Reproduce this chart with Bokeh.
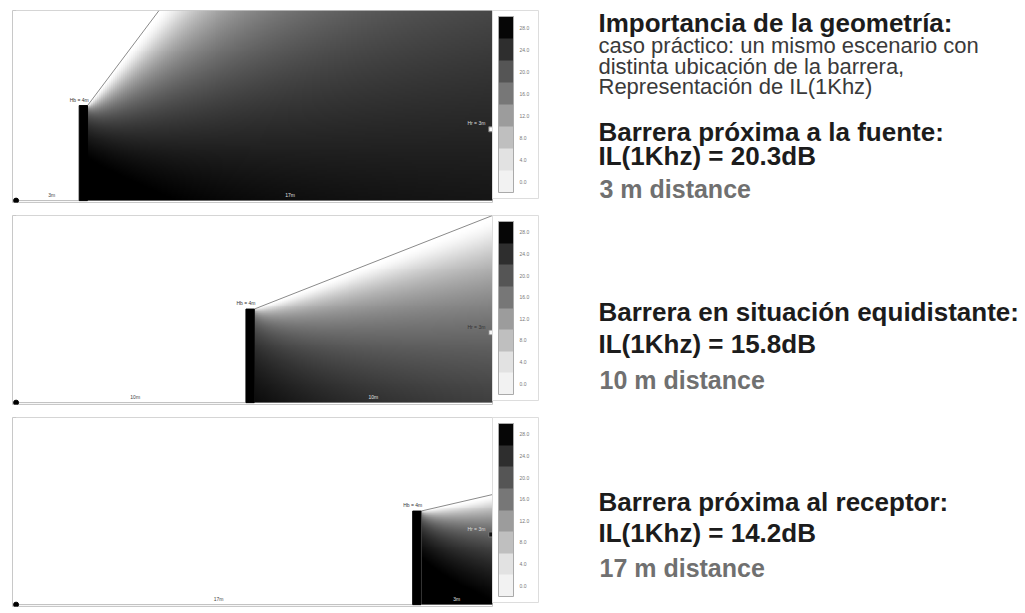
import numpy as np
from bokeh.plotting import figure
from bokeh.models import Range1d, ColorBar, LinearColorMapper, FixedTicker
from bokeh.layouts import row, column
from bokeh.palettes import Greys256
from bokeh.core.properties import value
from bokeh.embed import file_html
from bokeh.resources import INLINE

# ---------------- data ----------------
source_to_receiver = 20.0      # m
domain_height = 8.0            # m
barrier_positions = [3.0, 10.0, 17.0]   # m from the source
barrier_height = 4.0           # m
barrier_thickness = 0.35       # m
receiver_height = 3.0          # m
frequency_hz = 1000.0
sound_speed = 343.0

scenario_titles = ["Barrera próxima a la fuente:",
                   "Barrera en situación equidistante:",
                   "Barrera próxima al receptor:"]
il_results = [20.3, 15.8, 14.2]   # dB
distance_labels = ["3 m distance", "10 m distance", "17 m distance"]

colorbar_labels = ["0.0", "4.0", "8.0", "12.0", "16.0", "20.0", "24.0", "28.0"]
colorbar_greys = ["#f2f2f2", "#e2e2e2", "#bfbfbf", "#9c9c9c",
                  "#777777", "#555555", "#2e2e2e", "#060606"]

header_title = "Importancia de la geometría:"
header_lines = ["caso práctico: un mismo escenario con",
                "distinta ubicación de la barrera,",
                "Representación de IL(1Khz)"]

# ---------------- styles ----------------
FONT = value("Liberation Sans")
receiver_marker_colors = ["#f5f5f5", "#f5f5f5", "#111111"]
receiver_label_colors = ["#dddddd", "#333333", "#dddddd"]
field_high = [26.5, 28.5, 24.5]
frame_tops = [10, 7, 7]
frame_heights = [192, 189, 189]
frame_bottoms = [6, 6, 4]


def il_field(xb, hb, nx=240, ny=96):
    lam = sound_speed / frequency_hz
    xs = (np.arange(nx) + 0.5) * source_to_receiver / nx
    ys = (np.arange(ny) + 0.5) * domain_height / ny
    X, Y = np.meshgrid(xs, ys)
    delta = np.hypot(xb, hb) + np.hypot(X - xb, Y - hb) - np.hypot(X, Y)
    il = 10 * np.log10(3 + 40 * np.clip(delta, 0, None) / lam)
    shadow = (X >= xb) & (Y <= hb / xb * X)
    return np.where(shadow, il, np.nan)


panels = []
for i, xb in enumerate(barrier_positions):
    p = figure(frame_width=480, frame_height=frame_heights[i],
               x_range=Range1d(-0.15, source_to_receiver),
               y_range=Range1d(-0.08, domain_height),
               output_backend="svg", toolbar_location=None,
               x_axis_location=None, y_axis_location=None,
               min_border_left=12, min_border_right=58,
               min_border_top=frame_tops[i], min_border_bottom=frame_bottoms[i],
               outline_line_color="#c8c8c8")
    p.grid.visible = False

    field_mapper = LinearColorMapper(palette=list(reversed(Greys256)), low=4.8,
                                     high=field_high[i], nan_color="white")
    p.image(image=[il_field(xb, barrier_height)], x=0, y=0,
            dw=source_to_receiver, dh=domain_height, color_mapper=field_mapper)

    # line of sight source -> barrier top (shadow boundary)
    slope = barrier_height / xb
    x_end = min(source_to_receiver, domain_height / slope)
    p.segment(x0=[xb], y0=[barrier_height], x1=[x_end], y1=[slope * x_end],
              line_color="#8a8a8a", line_width=1)
    # ground
    p.segment(x0=[0], y0=[0], x1=[xb], y1=[0], line_color="#bbbbbb", line_width=1)

    # barrier
    p.quad(left=[xb - barrier_thickness], right=[xb], bottom=[0], top=[barrier_height],
           fill_color="black", line_color="black")

    # source & receiver
    p.scatter(x=[0], y=[0], size=5, marker="circle", color="black")
    p.scatter(x=[source_to_receiver - 0.05], y=[receiver_height], size=5, marker="square",
              fill_color=receiver_marker_colors[i], line_color="#777777")

    # labels
    p.text(x=[xb + 0.05], y=[barrier_height + 0.12], text=[f"Hb = {barrier_height:g}m"],
           text_font=FONT, text_font_size="5px", text_align="right",
           text_baseline="bottom", text_color="#333333")
    p.text(x=[source_to_receiver - 0.3], y=[receiver_height + 0.12],
           text=[f"Hr = {receiver_height:g}m"], text_font=FONT, text_font_size="5px",
           text_align="right", text_baseline="bottom", text_color=receiver_label_colors[i])
    p.text(x=[xb / 2], y=[0.12], text=[f"{xb:g}m"], text_font=FONT,
           text_font_size="5px", text_align="center", text_baseline="bottom",
           text_color="#444444")
    p.text(x=[(xb + source_to_receiver) / 2], y=[0.12],
           text=[f"{source_to_receiver - xb:g}m"], text_font=FONT,
           text_font_size="5px", text_align="center", text_baseline="bottom",
           text_color="#e0e0e0")

    cb_mapper = LinearColorMapper(palette=colorbar_greys, low=0, high=len(colorbar_greys))
    ticks = [k + 0.5 for k in range(len(colorbar_greys))]
    cb = ColorBar(color_mapper=cb_mapper, ticker=FixedTicker(ticks=ticks),
                  major_label_overrides={t: lab for t, lab in zip(ticks, colorbar_labels)},
                  width=15, height=frame_heights[i] - 16, margin=3, padding=6,
                  label_standoff=6, major_label_text_font_size="5px",
                  major_label_text_color="#777777", major_label_text_font="Liberation Sans",
                  major_tick_line_color=None, bar_line_color="#aaaaaa",
                  border_line_color="#dddddd", background_fill_color="white")
    p.add_layout(cb, "right")
    panels.append(p)

# ---------------- text panel ----------------
LEFT_W = 12 + 480 + 58
TOTAL_W, TOTAL_H = 1024, sum(frame_tops) + sum(frame_heights) + sum(frame_bottoms)
tp = figure(width=TOTAL_W - LEFT_W, height=TOTAL_H,
            x_range=Range1d(LEFT_W, TOTAL_W), y_range=Range1d(TOTAL_H, 0),
            output_backend="svg", toolbar_location=None,
            x_axis_location=None, y_axis_location=None,
            min_border=0, outline_line_color=None)
tp.grid.visible = False

TX = 598
tp.text(x=[TX], y=[22], text=[header_title], text_font=FONT, text_font_style="bold",
        text_font_size="26px", text_color="#1c1c1c", text_baseline="alphabetic")
tp.text(x=[TX] * 3, y=[45, 66, 86], text=header_lines, text_font=FONT,
        text_font_size="22px", text_color="#3a3a3a", text_baseline="alphabetic")

group_baselines = [(131, 155, 188), (311, 343, 379), (501, 532, 567)]
for title, il, dist, (b1, b2, b3) in zip(scenario_titles, il_results, distance_labels,
                                          group_baselines):
    tp.text(x=[TX, TX], y=[b1, b2], text=[title, f"IL(1Khz) = {il}dB"], text_font=FONT,
            text_font_style="bold", text_font_size="26px", text_color="#1c1c1c",
            text_baseline="alphabetic")
    tp.text(x=[TX + 1], y=[b3], text=[dist], text_font=FONT, text_font_style="bold",
            text_font_size="25px", text_color="#707070", text_baseline="alphabetic")

layout = row(column(*panels), tp)
open("out.html", "w").write(file_html(layout, INLINE))
